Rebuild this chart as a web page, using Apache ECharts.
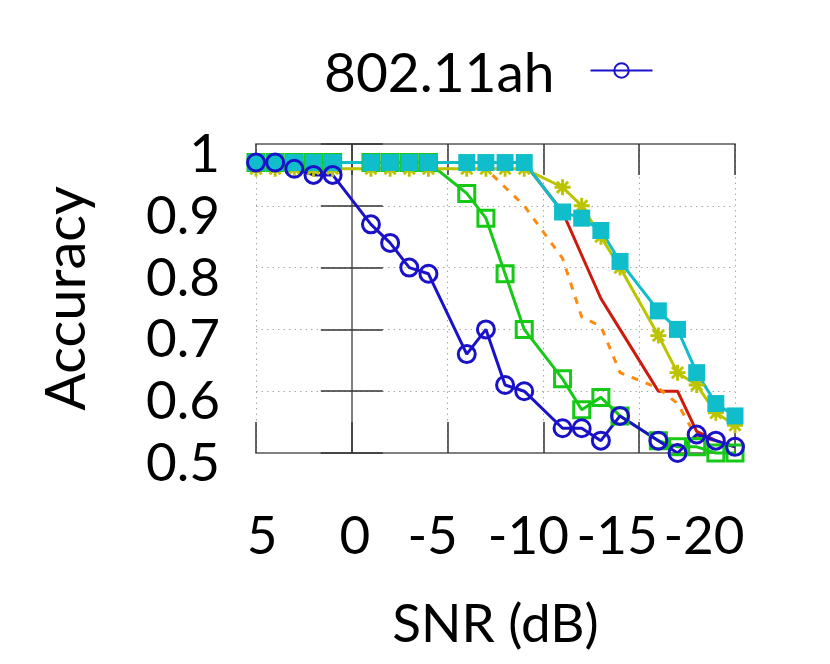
<!DOCTYPE html>
<html>
<head>
<meta charset="utf-8">
<script src="https://cdn.jsdelivr.net/npm/echarts@6/dist/echarts.min.js"></script>
<style>
  html, body { margin: 0; padding: 0; background: #fff; }
  #chart { width: 830px; height: 664px; }
</style>
</head>
<body>
<div id="chart"></div>
<script>
// SNR in dB (x axis runs from 5 down to -20)
var snr = [5, 4, 3, 2, 1, -1, -2, -3, -4, -6, -7, -8, -9, -11, -12, -13, -14, -16, -17, -18, -19, -20]
var xTicks = [5, 0, -5, -10, -15, -20]
var yTicks = [0.5, 0.6, 0.7, 0.8, 0.9, 1]

// accuracy per curve
var accAh = [0.97, 0.97, 0.96, 0.95, 0.95, 0.87, 0.84, 0.80, 0.79, 0.66, 0.70, 0.61, 0.60, 0.54, 0.54, 0.52, 0.56, 0.52, 0.50, 0.53, 0.52, 0.51]
var accGreen = [0.97, 0.97, 0.97, 0.97, 0.97, 0.97, 0.97, 0.97, 0.97, 0.92, 0.88, 0.79, 0.70, 0.62, 0.57, 0.59, 0.56, 0.52, 0.51, 0.51, 0.50, 0.50]
var accOlive = [0.96, 0.96, 0.96, 0.96, 0.96, 0.96, 0.96, 0.96, 0.96, 0.96, 0.96, 0.96, 0.96, 0.93, 0.90, 0.85, 0.80, 0.69, 0.63, 0.61, 0.565, 0.545]
var accCyan = [0.97, 0.97, 0.97, 0.97, 0.97, 0.97, 0.97, 0.97, 0.97, 0.97, 0.97, 0.97, 0.97, 0.89, 0.88, 0.86, 0.81, 0.73, 0.70, 0.63, 0.58, 0.56]
var accRed = [0.97, 0.97, 0.97, 0.97, 0.97, 0.97, 0.97, 0.97, 0.97, 0.97, 0.97, 0.97, 0.97, 0.89, 0.82, 0.75, 0.70, 0.60, 0.60, 0.535, 0.52, 0.51]
var accOrange = [0.97, 0.97, 0.97, 0.97, 0.97, 0.97, 0.97, 0.97, 0.97, 0.97, 0.96, 0.93, 0.90, 0.815, 0.72, 0.705, 0.63, 0.605, 0.58, 0.525, 0.52, 0.51]

var FONT = 'Lato'
var FS = 53
// gnuplot put the x labels a bit off their ticks
var xShift = { '5': 6, '0': 3, '-5': -15, '-10': -15, '-15': -22, '-20': -31 }
var xRich = {}
xTicks.forEach(function (v, i) {
    var s = xShift[String(v)] || 0
    xRich['t' + i] = {
        fontFamily: FONT,
        fontSize: FS,
        color: '#000',
        padding: s > 0 ? [0, 0, 0, 2 * s] : [0, -2 * s, 0, 0]
    }
})

var asterisk = 'path://M-1.8,-10L1.8,-10L1.8,10L-1.8,10Z' +
    'M-10,-1.8L10,-1.8L10,1.8L-10,1.8Z' +
    'M-5.73,-8.27L8.27,5.73L5.73,8.27L-8.27,-5.73Z' +
    'M-8.27,5.73L5.73,-8.27L8.27,-5.73L-5.73,8.27Z'

function pairs(ys) {
    return snr.map(function (x, i) { return [x, ys[i]] })
}

function curve(name, ys, color, opt) {
    return {
        name: name,
        type: 'line',
        data: pairs(ys),
        clip: false,
        showSymbol: opt.symbol !== 'none',
        symbol: opt.symbol,
        symbolSize: opt.size || 0,
        lineStyle: { color: color, width: 3, type: opt.dash || 'solid' },
        itemStyle: opt.hollow
            ? { color: 'none', borderColor: color, borderWidth: 3 }
            : { color: color },
        emphasis: { disabled: true }
    }
}

var xAxisBase = {
    type: 'value',
    min: -20,
    max: 5,
    interval: 5,
    inverse: true,
    splitLine: { show: false },
    axisLine: { show: true, lineStyle: { color: '#808080', width: 2 } },
    axisTick: { show: true, inside: true, length: 31, lineStyle: { color: '#333', width: 1.5 } }
}
var yAxisBase = {
    type: 'value',
    min: 0.5,
    max: 1,
    interval: 0.1,
    splitLine: { show: false },
    axisLine: { show: true, lineStyle: { color: '#808080', width: 2 } },
    axisTick: { show: true, inside: true, length: 31, lineStyle: { color: '#333', width: 1.5 } }
}

var chart = echarts.init(document.getElementById('chart'))
chart.setOption({
    animation: false,
    backgroundColor: '#fff',
    textStyle: { fontFamily: FONT },
    grid: { left: 256, right: 95, top: 144, bottom: 211, containLabel: false },
    legend: {
        data: ['802.11ah'],
        left: 319,
        top: 42,
        align: 'right',
        itemWidth: 62,
        itemHeight: 18,
        formatter: '{a|{name}}',
        textStyle: {
            fontFamily: FONT,
            fontSize: 55,
            color: '#000',
            rich: { a: { fontFamily: FONT, fontSize: 55, color: '#000', padding: [8, 31, 0, 0] } }
        }
    },
    xAxis: [
        Object.assign({}, xAxisBase, {
            position: 'bottom',
            name: 'SNR (dB)',
            nameLocation: 'middle',
            nameGap: 145,
            nameTextStyle: { fontFamily: FONT, fontSize: FS, color: '#000' },
            splitLine: { show: true, lineStyle: { color: '#aaa', width: 1, type: [1.5, 4] } },
            axisLabel: {
                margin: 57,
                formatter: function (v) {
                    var i = xTicks.indexOf(v)
                    return i < 0 ? '' : '{t' + i + '|' + v + '}'
                },
                rich: xRich
            }
        }),
        Object.assign({}, xAxisBase, { position: 'top', axisLabel: { show: false } })
    ],
    yAxis: [
        Object.assign({}, yAxisBase, {
            position: 'left',
            name: 'Accuracy',
            nameLocation: 'middle',
            nameGap: 161,
            nameTextStyle: { fontFamily: FONT, fontSize: 56, color: '#000' },
            splitLine: { show: true, lineStyle: { color: '#aaa', width: 1, type: [1.5, 4] } },
            axisLabel: {
                margin: 36,
                formatter: function (v) { return '{a|' + v + '}' },
                rich: { a: { fontFamily: FONT, fontSize: FS, color: '#000', padding: [22, 0, 0, 0] } }
            }
        }),
        Object.assign({}, yAxisBase, { position: 'right', axisLabel: { show: false } })
    ],
    series: [
        curve('red', accRed, '#cc1a0c', { symbol: 'none' }),
        curve('orange', accOrange, '#ff8a10', { symbol: 'none', dash: [7, 8] }),
        curve('green', accGreen, '#16c916', { symbol: 'rect', size: 16, hollow: true }),
        curve('olive', accOlive, '#bcc400', { symbol: asterisk, size: 16 }),
        curve('cyan', accCyan, '#10bdca', { symbol: 'rect', size: 17 }),
        curve('802.11ah', accAh, '#1a12c8', { symbol: 'circle', size: 17, hollow: true })
    ]
})
</script>
</body>
</html>
